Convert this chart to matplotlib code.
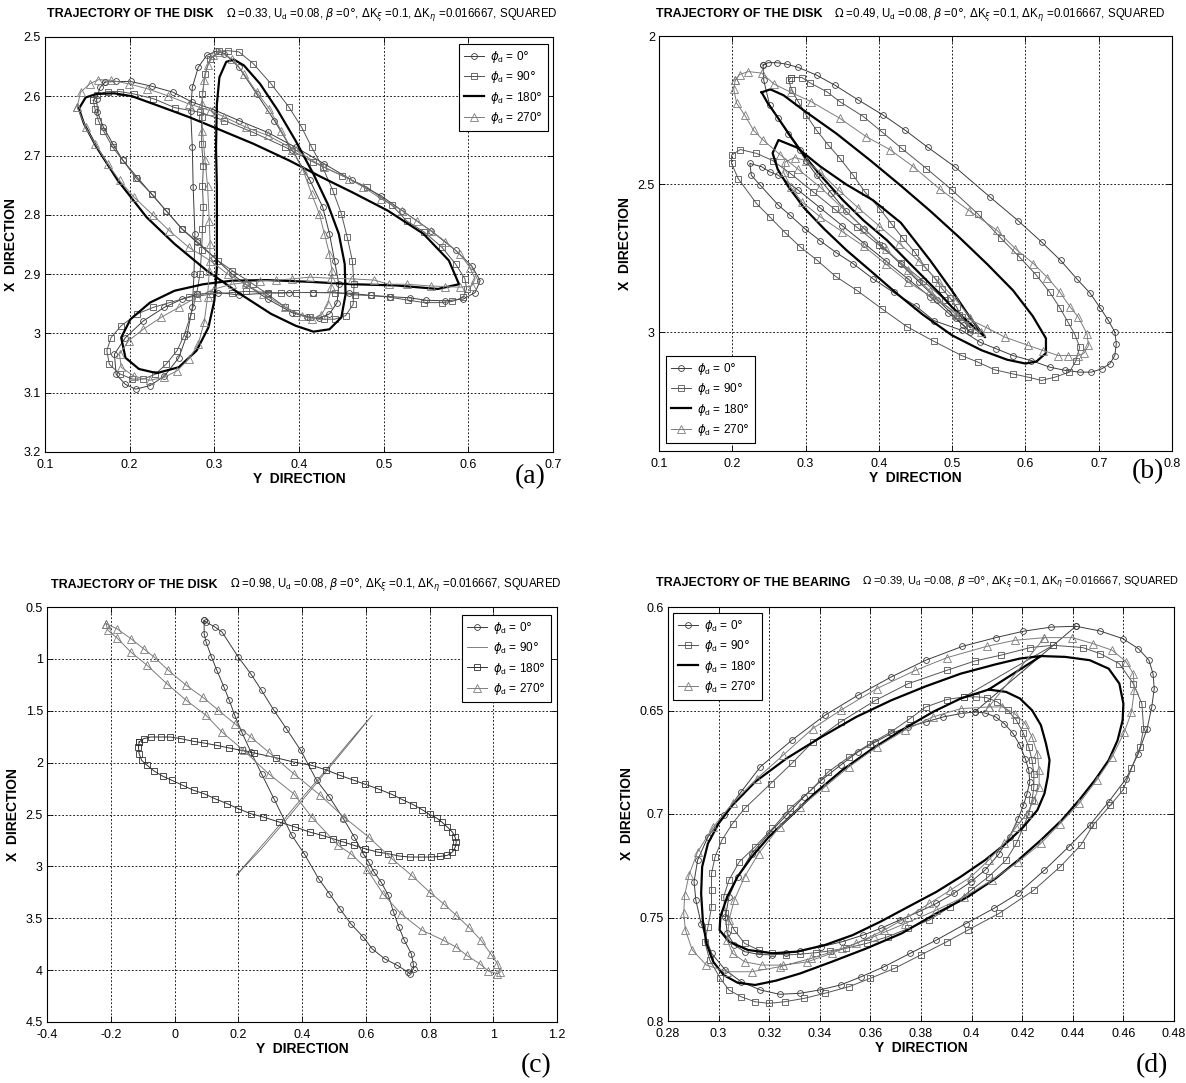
import numpy as np
import matplotlib.pyplot as plt

plt.rcParams['font.family'] = ['Liberation Sans Narrow', 'Liberation Sans', 'DejaVu Sans']
plt.rcParams['mathtext.fontset'] = 'dejavusans'

# ---------------- panel (a): disk, Omega = 0.33 ----------------
a_phi0 = [(0.171,2.576),(0.184,2.575),(0.201,2.575),(0.226,2.583),(0.251,2.593),(0.274,2.610),(0.300,2.623),
          (0.329,2.641),(0.363,2.661),(0.396,2.686),(0.430,2.714),(0.463,2.742),(0.497,2.768),(0.522,2.793),
          (0.556,2.827),(0.585,2.860),(0.604,2.886),(0.614,2.911),(0.608,2.931),(0.594,2.942),(0.573,2.945),
          (0.550,2.944),(0.531,2.940),(0.508,2.938),(0.485,2.936),(0.459,2.932),(0.417,2.931),(0.388,2.931),
          (0.363,2.932),(0.329,2.935),(0.304,2.931),(0.279,2.934),(0.262,2.942),(0.241,2.956),(0.216,2.979),
          (0.195,3.007),(0.182,3.035),(0.184,3.069),(0.195,3.086),(0.207,3.094),(0.224,3.088),(0.241,3.072),
          (0.258,3.041),(0.268,3.001),(0.274,2.956),(0.276,2.900),(0.277,2.832),(0.275,2.753),(0.274,2.686),
          (0.272,2.624),(0.274,2.585),(0.281,2.551),(0.291,2.531),(0.302,2.524),(0.312,2.528),(0.329,2.551),
          (0.350,2.596),(0.371,2.641),(0.392,2.691),(0.413,2.742),(0.428,2.787),(0.436,2.832),(0.442,2.877),
          (0.447,2.917),(0.445,2.948),(0.436,2.967),(0.424,2.974),(0.409,2.972),(0.392,2.965),(0.363,2.942),
          (0.337,2.917),(0.321,2.900),(0.300,2.872),(0.279,2.846),(0.262,2.824),(0.243,2.793),(0.226,2.765),
          (0.209,2.737),(0.192,2.708),(0.180,2.680),(0.169,2.652),(0.162,2.627),(0.161,2.604),(0.165,2.585),
          (0.171,2.576)]
a_phi90 = [(0.157,2.607),(0.161,2.597),(0.174,2.592),(0.188,2.592),(0.205,2.596),(0.228,2.604),(0.253,2.619),
           (0.283,2.627),(0.312,2.641),(0.346,2.661),(0.384,2.686),(0.417,2.711),(0.451,2.734),(0.480,2.753),
           (0.510,2.784),(0.527,2.810),(0.548,2.829),(0.569,2.855),(0.585,2.883),(0.596,2.908),(0.598,2.925),
           (0.594,2.939),(0.581,2.946),(0.569,2.948),(0.548,2.948),(0.529,2.944),(0.508,2.939),(0.485,2.936),
           (0.466,2.935),(0.442,2.931),(0.417,2.931),(0.396,2.931),(0.379,2.932),(0.363,2.931),(0.337,2.929),
           (0.321,2.931),(0.295,2.934),(0.270,2.939),(0.247,2.948),(0.228,2.956),(0.209,2.967),(0.190,2.987),
           (0.178,3.007),(0.173,3.029),(0.176,3.052),(0.188,3.068),(0.203,3.077),(0.216,3.077),(0.230,3.069),
           (0.243,3.052),(0.256,3.029),(0.264,3.004),(0.272,2.970),(0.279,2.934),(0.283,2.900),(0.285,2.860),
           (0.286,2.824),(0.287,2.787),(0.286,2.751),(0.287,2.717),(0.285,2.680),(0.285,2.635),(0.286,2.596),
           (0.289,2.562),(0.295,2.537),(0.306,2.524),(0.316,2.523),(0.329,2.525),(0.346,2.545),(0.367,2.579),
           (0.388,2.618),(0.403,2.652),(0.415,2.686),(0.428,2.720),(0.440,2.759),(0.450,2.798),(0.457,2.838),
           (0.463,2.877),(0.465,2.917),(0.464,2.951),(0.455,2.970),(0.442,2.976),(0.430,2.976),(0.413,2.973),
           (0.396,2.965),(0.384,2.956),(0.363,2.934),(0.346,2.917),(0.321,2.894),(0.304,2.877),(0.279,2.844),
           (0.262,2.824),(0.243,2.793),(0.226,2.765),(0.207,2.737),(0.192,2.708),(0.180,2.686),(0.169,2.658),
           (0.163,2.641),(0.159,2.621),(0.157,2.607)]
a_phi180 = [(0.140,2.621),(0.148,2.602),(0.161,2.596),(0.182,2.595),(0.203,2.600),(0.232,2.615),(0.270,2.635),
            (0.304,2.655),(0.346,2.680),(0.388,2.708),(0.426,2.736),(0.463,2.762),(0.505,2.793),(0.547,2.832),
            (0.577,2.877),(0.589,2.917),(0.564,2.925),(0.514,2.919),(0.463,2.917),(0.413,2.913),(0.363,2.910),
            (0.321,2.911),(0.287,2.917),(0.253,2.928),(0.224,2.948),(0.201,2.976),(0.190,3.007),(0.195,3.041),
            (0.211,3.060),(0.232,3.067),(0.258,3.057),(0.279,3.029),(0.293,2.990),(0.300,2.945),(0.303,2.889),
            (0.303,2.821),(0.303,2.753),(0.302,2.686),(0.303,2.613),(0.306,2.568),(0.314,2.542),(0.323,2.538),
            (0.335,2.548),(0.354,2.579),(0.375,2.624),(0.396,2.675),(0.417,2.731),(0.434,2.782),(0.447,2.832),
            (0.454,2.883),(0.455,2.934),(0.450,2.973),(0.436,2.993),(0.417,2.997),(0.396,2.987),(0.367,2.967),
            (0.329,2.932),(0.291,2.894),(0.253,2.849),(0.220,2.804),(0.186,2.742),(0.161,2.686),(0.146,2.646),
            (0.140,2.621)]
a_phi270 = [(0.138,2.618),(0.142,2.593),(0.153,2.579),(0.163,2.572),(0.178,2.573),(0.199,2.579),(0.220,2.587),
            (0.245,2.599),(0.270,2.613),(0.295,2.624),(0.312,2.635),(0.337,2.652),(0.363,2.666),(0.396,2.691),
            (0.430,2.720),(0.459,2.739),(0.476,2.753),(0.497,2.773),(0.522,2.793),(0.539,2.810),(0.556,2.827),
            (0.573,2.845),(0.590,2.866),(0.602,2.889),(0.608,2.908),(0.604,2.920),(0.590,2.922),(0.573,2.921),
            (0.556,2.920),(0.527,2.917),(0.506,2.917),(0.489,2.910),(0.463,2.908),(0.438,2.907),(0.413,2.905),
            (0.392,2.908),(0.373,2.910),(0.354,2.911),(0.337,2.914),(0.321,2.917),(0.300,2.925),(0.279,2.939),
            (0.258,2.956),(0.237,2.973),(0.216,2.993),(0.199,3.012),(0.188,3.035),(0.190,3.057),(0.205,3.072),
            (0.224,3.079),(0.241,3.074),(0.256,3.063),(0.270,3.043),(0.281,3.018),(0.288,2.981),(0.292,2.939),
            (0.294,2.894),(0.295,2.849),(0.294,2.810),(0.292,2.751),(0.289,2.708),(0.286,2.658),(0.285,2.613),
            (0.288,2.573),(0.292,2.548),(0.299,2.531),(0.306,2.525),(0.321,2.537),(0.335,2.562),(0.350,2.593),
            (0.365,2.621),(0.379,2.658),(0.392,2.691),(0.405,2.725),(0.415,2.765),(0.424,2.798),(0.430,2.832),
            (0.436,2.866),(0.439,2.894),(0.438,2.922),(0.434,2.951),(0.426,2.969),(0.415,2.976),(0.403,2.970),
            (0.384,2.956),(0.358,2.934),(0.337,2.917),(0.316,2.900),(0.295,2.877),(0.270,2.855),(0.247,2.827),
            (0.228,2.801),(0.205,2.770),(0.188,2.742),(0.174,2.714),(0.159,2.680),(0.148,2.652),(0.138,2.618)]

# ---------------- panel (b): disk, Omega = 0.49 ----------------
b_phi0 = [(0.242,2.098),(0.249,2.090),(0.261,2.090),(0.274,2.095),(0.290,2.106),(0.315,2.132),(0.340,2.166),
          (0.372,2.216),(0.406,2.267),(0.436,2.318),(0.467,2.376),(0.504,2.442),(0.552,2.544),(0.590,2.623),
          (0.622,2.695),(0.648,2.757),(0.670,2.819),(0.688,2.867),(0.702,2.917),(0.713,2.959),(0.722,2.999),
          (0.724,3.038),(0.722,3.078),(0.715,3.106),(0.704,3.123),(0.690,3.134),(0.674,3.134),(0.654,3.128),
          (0.633,3.117),(0.608,3.095),(0.583,3.078),(0.560,3.055),(0.538,3.033),(0.513,2.993),(0.475,2.960),
          (0.450,2.910),(0.420,2.865),(0.392,2.819),(0.365,2.768),(0.342,2.731),(0.320,2.691),(0.299,2.650),
          (0.279,2.605),(0.263,2.571),(0.238,2.503),(0.226,2.470),(0.224,2.430),(0.240,2.441),(0.251,2.458),
          (0.263,2.470),(0.290,2.520),(0.320,2.580),(0.350,2.640),(0.380,2.700),(0.410,2.760),(0.440,2.820),
          (0.470,2.880),(0.495,2.935),(0.515,2.975),(0.525,3.000),(0.505,2.950),(0.480,2.890),(0.455,2.830),
          (0.430,2.770),(0.405,2.710),(0.380,2.650),(0.355,2.590),(0.335,2.530),(0.315,2.470),(0.300,2.420),
          (0.292,2.385),(0.276,2.331),(0.263,2.278),(0.251,2.233),(0.243,2.150),(0.242,2.098)]
b_phi90 = [(0.280,2.140),(0.295,2.140),(0.306,2.158),(0.329,2.188),(0.347,2.222),(0.379,2.272),(0.404,2.323),
           (0.431,2.379),(0.465,2.447),(0.500,2.520),(0.535,2.600),(0.567,2.683),(0.592,2.746),(0.615,2.807),
           (0.633,2.864),(0.647,2.917),(0.658,2.965),(0.668,3.010),(0.674,3.050),(0.669,3.095),(0.660,3.134),
           (0.640,3.151),(0.622,3.162),(0.604,3.151),(0.583,3.140),(0.558,3.126),(0.535,3.100),(0.513,3.078),
           (0.475,3.030),(0.438,2.980),(0.404,2.920),(0.370,2.858),(0.341,2.811),(0.316,2.757),(0.293,2.712),
           (0.272,2.663),(0.251,2.610),(0.233,2.565),(0.208,2.481),(0.199,2.430),(0.199,2.402),(0.211,2.383),
           (0.233,2.396),(0.255,2.420),(0.280,2.465),(0.310,2.525),(0.340,2.585),(0.370,2.645),(0.400,2.705),
           (0.430,2.765),(0.460,2.825),(0.490,2.890),(0.510,2.940),(0.525,2.985),(0.513,2.948),(0.506,2.914),
           (0.497,2.883),(0.486,2.852),(0.477,2.819),(0.463,2.779),(0.449,2.729),(0.433,2.683),(0.417,2.633),
           (0.401,2.582),(0.381,2.526),(0.365,2.470),(0.347,2.413),(0.331,2.368),(0.315,2.318),(0.301,2.267),
           (0.290,2.222),(0.281,2.182),(0.277,2.150),(0.280,2.140)]
b_phi180 = [(0.240,2.190),(0.252,2.180),(0.270,2.200),(0.297,2.250),(0.342,2.329),(0.388,2.419),(0.430,2.505),
            (0.470,2.590),(0.510,2.680),(0.548,2.770),(0.583,2.858),(0.610,2.945),(0.628,3.020),(0.628,3.070),
            (0.615,3.098),(0.600,3.105),(0.575,3.092),(0.540,3.060),(0.500,3.010),(0.460,2.940),(0.425,2.870),
            (0.390,2.795),(0.356,2.723),(0.325,2.650),(0.298,2.580),(0.277,2.510),(0.262,2.450),(0.255,2.395),
            (0.263,2.351),(0.288,2.376),(0.320,2.440),(0.355,2.500),(0.392,2.554),(0.430,2.630),(0.470,2.757),
            (0.500,2.860),(0.524,2.948),(0.545,3.016),(0.520,2.960),(0.500,2.915),(0.483,2.869),(0.465,2.824),
            (0.438,2.757),(0.411,2.689),(0.379,2.622),(0.351,2.554),(0.324,2.480),(0.300,2.410),(0.280,2.340),
            (0.262,2.275),(0.248,2.225),(0.240,2.190)]
b_phi270 = [(0.204,2.149),(0.210,2.130),(0.222,2.120),(0.240,2.125),(0.257,2.162),(0.280,2.190),(0.308,2.222),
            (0.347,2.278),(0.383,2.340),(0.415,2.383),(0.447,2.441),(0.483,2.516),(0.523,2.589),(0.561,2.655),
            (0.586,2.717),(0.611,2.768),(0.630,2.815),(0.647,2.864),(0.661,2.914),(0.672,2.948),(0.684,3.004),
            (0.686,3.044),(0.680,3.070),(0.672,3.078),(0.658,3.078),(0.645,3.078),(0.624,3.061),(0.604,3.044),
            (0.572,3.016),(0.547,2.984),(0.510,2.940),(0.475,2.885),(0.440,2.830),(0.410,2.770),(0.380,2.710),
            (0.350,2.660),(0.320,2.610),(0.295,2.560),(0.280,2.510),(0.270,2.460),(0.272,2.425),(0.285,2.410),
            (0.300,2.420),(0.320,2.460),(0.345,2.520),(0.372,2.580),(0.400,2.640),(0.428,2.700),(0.455,2.760),
            (0.482,2.830),(0.505,2.890),(0.525,2.950),(0.540,3.000),(0.530,2.990),(0.505,2.940),(0.470,2.860),
            (0.440,2.790),(0.410,2.720),(0.380,2.650),(0.350,2.580),(0.320,2.510),(0.290,2.450),(0.265,2.400),
            (0.242,2.351),(0.229,2.318),(0.217,2.267),(0.206,2.227),(0.202,2.180),(0.204,2.149)]

# ---------------- panel (c): disk, Omega = 0.98 ----------------
c_phi0 = [(0.093,0.629),(0.093,0.757),(0.099,0.837),(0.116,0.982),(0.133,1.110),(0.155,1.271),(0.172,1.400),
          (0.189,1.544),(0.211,1.705),(0.240,1.900),(0.273,2.107),(0.312,2.348),(0.368,2.701),(0.407,2.878),
          (0.452,3.119),(0.486,3.263),(0.519,3.408),(0.553,3.553),(0.592,3.681),(0.620,3.794),(0.659,3.890),
          (0.699,3.954),(0.732,4.019),(0.738,4.035),(0.750,3.985),(0.749,3.938),(0.743,3.842),(0.721,3.713),
          (0.704,3.585),(0.687,3.440),(0.671,3.280),(0.648,3.151),(0.626,3.055),(0.609,2.958),(0.592,2.878),
          (0.564,2.717),(0.530,2.541),(0.486,2.332),(0.446,2.171),(0.396,1.882),(0.351,1.673),(0.312,1.496),
          (0.273,1.303),(0.239,1.143),(0.200,0.982),(0.149,0.741),(0.127,0.693),(0.099,0.645),(0.093,0.629)]
c_phi90 = [(0.194,3.087),(0.260,2.850),(0.330,2.600),(0.400,2.340),(0.470,2.090),(0.540,1.830),(0.620,1.544),
           (0.550,1.810),(0.480,2.070),(0.410,2.330),(0.340,2.590),(0.270,2.840),(0.197,3.075)]
c_phi180 = [(-0.111,1.801),(-0.097,1.769),(-0.075,1.753),(-0.041,1.753),(-0.013,1.753),(0.020,1.769),
            (0.060,1.795),(0.093,1.811),(0.133,1.834),(0.172,1.859),(0.211,1.882),(0.250,1.907),(0.317,1.952),
            (0.374,1.994),(0.430,2.026),(0.474,2.068),(0.519,2.123),(0.564,2.171),(0.598,2.209),(0.637,2.251),
            (0.682,2.306),(0.715,2.357),(0.749,2.405),(0.777,2.454),(0.800,2.499),(0.822,2.534),(0.839,2.573),
            (0.856,2.621),(0.872,2.669),(0.880,2.717),(0.884,2.765),(0.881,2.814),(0.872,2.862),(0.856,2.894),
            (0.833,2.904),(0.805,2.910),(0.772,2.910),(0.738,2.910),(0.704,2.900),(0.671,2.878),(0.637,2.862),
            (0.598,2.830),(0.564,2.798),(0.530,2.765),(0.497,2.733),(0.463,2.701),(0.424,2.669),(0.379,2.621),
            (0.329,2.573),(0.278,2.524),(0.239,2.492),(0.200,2.444),(0.166,2.396),(0.127,2.348),(0.093,2.300),
            (0.060,2.267),(0.026,2.219),(-0.008,2.171),(-0.036,2.132),(-0.064,2.081),(-0.086,2.026),
            (-0.103,1.978),(-0.111,1.914),(-0.113,1.850),(-0.111,1.801)]
c_phi270 = [(-0.215,0.661),(-0.181,0.709),(-0.137,0.805),(-0.097,0.902),(-0.064,0.982),(-0.019,1.111),
            (0.037,1.255),(0.088,1.368),(0.138,1.496),(0.189,1.625),(0.239,1.753),(0.295,1.898),(0.374,2.107),
            (0.458,2.316),(0.531,2.524),(0.609,2.717),(0.682,2.926),(0.744,3.087),(0.800,3.247),(0.844,3.360),
            (0.884,3.472),(0.923,3.585),(0.962,3.713),(0.992,3.842),(1.013,3.938),(1.022,4.019),(1.013,4.035),
            (0.985,4.009),(0.957,3.938),(0.917,3.858),(0.884,3.778),(0.844,3.713),(0.777,3.617),(0.710,3.456),
            (0.654,3.264),(0.603,3.023),(0.553,2.878),(0.514,2.798),(0.430,2.524),(0.374,2.300),(0.295,2.107),
            (0.217,1.882),(0.149,1.705),(0.099,1.544),(0.037,1.400),(-0.024,1.239),(-0.086,1.062),
            (-0.137,0.934),(-0.181,0.796),(-0.209,0.725),(-0.215,0.661)]

# ---------------- panel (d): bearing, Omega = 0.39 ----------------
d_phi0 = [(0.4412,0.6093),(0.4508,0.6116),(0.4598,0.6153),(0.4659,0.6201),(0.4701,0.6257),(0.4717,0.6322),
          (0.4722,0.6394),(0.4712,0.6483),(0.4694,0.6587),(0.4659,0.6708),(0.4611,0.6829),(0.4542,0.6941),
          (0.4467,0.7054),(0.4384,0.7158),(0.4288,0.7271),(0.4184,0.7384),(0.4088,0.7456),(0.3978,0.7529),
          (0.3861,0.7609),(0.3757,0.7673),(0.3654,0.7738),(0.3564,0.7786),(0.3482,0.7826),(0.3399,0.7850),
          (0.3323,0.7866),(0.3241,0.7871),(0.3165,0.7850),(0.3089,0.7810),(0.3027,0.7754),(0.2972,0.7673),
          (0.2931,0.7529),(0.2910,0.7416),(0.2903,0.7327),(0.2917,0.7223),(0.2958,0.7110),(0.3020,0.7006),
          (0.3089,0.6893),(0.3165,0.6772),(0.3289,0.6644),(0.3420,0.6523),(0.3551,0.6426),(0.3682,0.6338),
          (0.3819,0.6257),(0.3964,0.6190),(0.4095,0.6148),(0.4205,0.6117),(0.4315,0.6097),(0.4412,0.6093),
          (0.4012,0.6507),(0.4053,0.6512),(0.4095,0.6531),(0.4129,0.6563),(0.4164,0.6611),(0.4191,0.6668),
          (0.4212,0.6732),(0.4226,0.6788),(0.4230,0.6845),(0.4219,0.6901),(0.4205,0.6957),(0.4184,0.7022),
          (0.4150,0.7110),(0.4109,0.7191),(0.4053,0.7271),(0.3998,0.7327),(0.3929,0.7384),(0.3861,0.7432),
          (0.3792,0.7472),(0.3716,0.7512),(0.3640,0.7553),(0.3571,0.7585),(0.3489,0.7617),(0.3406,0.7641),
          (0.3323,0.7661),(0.3268,0.7673),(0.3213,0.7681),(0.3158,0.7678),(0.3103,0.7665),(0.3062,0.7633),
          (0.3034,0.7577),(0.3027,0.7496),(0.3041,0.7400),(0.3075,0.7303),(0.3131,0.7191),(0.3199,0.7094),
          (0.3268,0.7006),(0.3337,0.6917),(0.3406,0.6837),(0.3482,0.6764),(0.3551,0.6700),(0.3620,0.6652),
          (0.3682,0.6611),(0.3750,0.6579),(0.3819,0.6555),(0.3888,0.6531),(0.3957,0.6515),(0.4012,0.6507)]
d_phi90 = [(0.4322,0.6185),(0.4439,0.6196),(0.4508,0.6225),(0.4584,0.6274),(0.4639,0.6370),(0.4673,0.6467),
           (0.4680,0.6587),(0.4666,0.6676),(0.4632,0.6780),(0.4598,0.6885),(0.4549,0.6957),(0.4480,0.7054),
           (0.4432,0.7150),(0.4350,0.7255),(0.4246,0.7368),(0.4109,0.7480),(0.3985,0.7561),(0.3902,0.7617),
           (0.3799,0.7681),(0.3695,0.7746),(0.3599,0.7794),(0.3516,0.7834),(0.3420,0.7866),(0.3337,0.7891),
           (0.3261,0.7907),(0.3199,0.7915),(0.3144,0.7907),(0.3089,0.7883),(0.3041,0.7850),(0.3007,0.7794),
           (0.2965,0.7706),(0.2945,0.7617),(0.2958,0.7545),(0.2972,0.7448),(0.2972,0.7368),(0.2972,0.7287),
           (0.2986,0.7207),(0.3013,0.7126),(0.3055,0.7046),(0.3103,0.6973),(0.3206,0.6853),(0.3289,0.6756),
           (0.3372,0.6652),(0.3482,0.6555),(0.3620,0.6451),(0.3750,0.6370),(0.3902,0.6306),(0.4012,0.6261),
           (0.4115,0.6233),(0.4232,0.6196),(0.4322,0.6185),
           (0.3971,0.6434),(0.3902,0.6447),(0.3819,0.6483),(0.3757,0.6539),(0.3682,0.6603),(0.3599,0.6660),
           (0.3516,0.6724),(0.3434,0.6796),(0.3365,0.6885),(0.3282,0.6973),(0.3213,0.7070),(0.3144,0.7158),
           (0.3082,0.7231),(0.3041,0.7319),(0.3020,0.7400),(0.3027,0.7480),(0.3062,0.7561),(0.3103,0.7625),
           (0.3158,0.7657),(0.3213,0.7673),(0.3268,0.7681),(0.3323,0.7677),(0.3385,0.7670),(0.3440,0.7661),
           (0.3502,0.7649),(0.3585,0.7625),(0.3668,0.7593),(0.3750,0.7553),(0.3833,0.7512),(0.3916,0.7448),
           (0.3998,0.7368),(0.4067,0.7303),(0.4136,0.7223),(0.4177,0.7142),(0.4205,0.7062),(0.4226,0.6998),
           (0.4239,0.6933),(0.4246,0.6869),(0.4246,0.6805),(0.4239,0.6740),(0.4226,0.6676),(0.4205,0.6611),
           (0.4177,0.6547),(0.4143,0.6499),(0.4102,0.6459),(0.4060,0.6438),(0.4019,0.6434),(0.3971,0.6434)]
d_phi180 = [(0.4274,0.6237),(0.4370,0.6241),(0.4467,0.6257),(0.4542,0.6298),(0.4584,0.6370),(0.4600,0.6467),
            (0.4597,0.6547),(0.4577,0.6644),(0.4542,0.6740),(0.4487,0.6837),(0.4425,0.6933),(0.4356,0.7030),
            (0.4274,0.7126),(0.4184,0.7223),(0.4095,0.7311),(0.3985,0.7400),(0.3861,0.7480),(0.3723,0.7577),
            (0.3585,0.7649),(0.3447,0.7714),(0.3323,0.7770),(0.3227,0.7805),(0.3144,0.7826),(0.3075,0.7815),
            (0.3020,0.7778),(0.2979,0.7714),(0.2952,0.7625),(0.2938,0.7520),(0.2931,0.7384),(0.2935,0.7255),
            (0.2958,0.7142),(0.3000,0.7046),(0.3055,0.6957),(0.3144,0.6845),(0.3268,0.6732),(0.3406,0.6628),
            (0.3544,0.6531),(0.3682,0.6451),(0.3819,0.6383),(0.3957,0.6322),(0.4095,0.6277),(0.4191,0.6249),
            (0.4274,0.6237),
            (0.4067,0.6399),(0.4136,0.6410),(0.4191,0.6442),(0.4239,0.6499),(0.4274,0.6571),(0.4294,0.6660),
            (0.4308,0.6740),(0.4301,0.6821),(0.4288,0.6901),(0.4260,0.6981),(0.4205,0.7062),(0.4136,0.7142),
            (0.4053,0.7223),(0.3957,0.7303),(0.3861,0.7376),(0.3750,0.7448),(0.3640,0.7520),(0.3530,0.7585),
            (0.3420,0.7633),(0.3310,0.7665),(0.3213,0.7673),(0.3117,0.7657),(0.3041,0.7617),(0.3004,0.7561),
            (0.3007,0.7496),(0.3034,0.7400),(0.3075,0.7303),(0.3131,0.7207),(0.3199,0.7110),(0.3282,0.7014),
            (0.3379,0.6901),(0.3489,0.6788),(0.3599,0.6692),(0.3723,0.6595),(0.3847,0.6507),(0.3957,0.6442),
            (0.4067,0.6399)]
d_phi270 = [(0.4288,0.6148),(0.4398,0.6148),(0.4480,0.6177),(0.4556,0.6209),(0.4611,0.6265),(0.4639,0.6322),
            (0.4643,0.6402),(0.4632,0.6507),(0.4604,0.6603),(0.4556,0.6724),(0.4494,0.6837),(0.4425,0.6949),
            (0.4350,0.7046),(0.4274,0.7142),(0.4184,0.7231),(0.4081,0.7319),(0.3971,0.7400),(0.3861,0.7464),
            (0.3737,0.7529),(0.3613,0.7593),(0.3489,0.7649),(0.3365,0.7698),(0.3241,0.7738),(0.3131,0.7762),
            (0.3034,0.7762),(0.2952,0.7730),(0.2896,0.7657),(0.2869,0.7561),(0.2862,0.7480),(0.2866,0.7392),
            (0.2883,0.7295),(0.2917,0.7183),(0.2979,0.7062),(0.3055,0.6949),(0.3151,0.6829),(0.3255,0.6716),
            (0.3372,0.6587),(0.3482,0.6499),(0.3626,0.6394),(0.3778,0.6306),(0.3902,0.6245),(0.4060,0.6190),
            (0.4170,0.6161),(0.4288,0.6148),
            (0.4067,0.6483),(0.4122,0.6483),(0.4170,0.6515),(0.4212,0.6563),(0.4239,0.6628),(0.4260,0.6708),
            (0.4267,0.6788),(0.4267,0.6869),(0.4246,0.6933),(0.4219,0.6998),(0.4177,0.7062),(0.4129,0.7142),
            (0.4067,0.7223),(0.3998,0.7303),(0.3916,0.7368),(0.3833,0.7432),(0.3750,0.7496),(0.3654,0.7561),
            (0.3544,0.7625),(0.3447,0.7673),(0.3351,0.7714),(0.3255,0.7730),(0.3172,0.7730),(0.3103,0.7714),
            (0.3055,0.7673),(0.3034,0.7609),(0.3041,0.7512),(0.3062,0.7416),(0.3103,0.7303),(0.3158,0.7191),
            (0.3241,0.7062),(0.3323,0.6965),(0.3420,0.6869),(0.3516,0.6772),(0.3626,0.6676),(0.3737,0.6595),
            (0.3847,0.6531),(0.3957,0.6491),(0.4067,0.6483)]

titles = ['TRAJECTORY OF THE DISK', 'TRAJECTORY OF THE DISK',
          'TRAJECTORY OF THE DISK', 'TRAJECTORY OF THE BEARING']
omegas = ['0.33', '0.49', '0.98', '0.39']
panel_tags = ['(a)', '(b)', '(c)', '(d)']
phi_labels = [r'$\phi_{\mathregular{d}}$ = 0$\degree$', r'$\phi_{\mathregular{d}}$ = 90$\degree$',
              r'$\phi_{\mathregular{d}}$ = 180$\degree$', r'$\phi_{\mathregular{d}}$ = 270$\degree$']

# line styles (MATLAB-like hollow markers)
st_circ = dict(color='#3c3c3c', lw=0.7, marker='o', ms=4.2, mfc='none', mew=0.6)
st_sq = dict(color='#555555', lw=0.7, marker='s', ms=4.0, mfc='none', mew=0.6)
st_sq_dark = dict(color='#303030', lw=0.7, marker='s', ms=4.0, mfc='none', mew=0.6)
st_thick = dict(color='black', lw=1.6)
st_tri = dict(color='#7c7c7c', lw=0.7, marker='^', ms=5.2, mfc='none', mew=0.6)
st_thin = dict(color='#6a6a6a', lw=0.6)

W, H = 1186, 1083
fig = plt.figure(figsize=(W / 100, H / 100), dpi=100)


def fx(px):
    return px / W


def fy(py):
    return 1 - py / H


# axes boxes in pixel coordinates: left, top, right, bottom
boxes = [(45, 37, 553, 452), (659, 36, 1172, 451), (47, 607, 557, 1022), (668, 607, 1174, 1021)]
axes = []
for l, t, r, b in boxes:
    axes.append(fig.add_axes([fx(l), fy(b), (r - l) / W, (b - t) / H]))

panels = [
    [(a_phi0, st_circ), (a_phi90, st_sq), (a_phi180, st_thick), (a_phi270, st_tri)],
    [(b_phi0, st_circ), (b_phi90, st_sq), (b_phi180, st_thick), (b_phi270, st_tri)],
    [(c_phi0, st_circ), (c_phi90, st_thin), (c_phi180, st_sq_dark), (c_phi270, st_tri)],
    [(d_phi0, st_circ), (d_phi90, st_sq), (d_phi180, st_thick), (d_phi270, st_tri)],
]
xlims = [(0.1, 0.7), (0.1, 0.8), (-0.4, 1.2), (0.28, 0.48)]
ylims = [(3.2, 2.5), (3.4, 2.0), (4.5, 0.5), (0.8, 0.6)]
xticks = [np.arange(0.1, 0.71, 0.1), np.arange(0.1, 0.81, 0.1), np.arange(-0.4, 1.21, 0.2),
          np.arange(0.28, 0.481, 0.02)]
yticks = [np.arange(2.5, 3.21, 0.1), [2.0, 2.5, 3.0], np.arange(0.5, 4.51, 0.5), np.arange(0.6, 0.81, 0.05)]
# legend anchor corner (pixels) and loc
leg_pos = [((548, 44), 'upper right'), ((666, 443), 'lower left'),
           ((551, 615), 'upper right'), ((673, 613), 'upper left')]

for i, ax in enumerate(axes):
    for (pts, st), lab in zip(panels[i], phi_labels):
        arr = np.array(pts)
        ax.plot(arr[:, 0], arr[:, 1], label=lab, **st)
    ax.set_xlim(*xlims[i])
    ax.set_ylim(*ylims[i])
    ax.set_xticks(xticks[i])
    ax.set_yticks(yticks[i])
    ax.set_xticklabels(['%g' % round(v, 2) for v in xticks[i]])
    ax.set_yticklabels(['%g' % round(v, 2) for v in yticks[i]])
    ax.grid(True, color='black', ls=(0, (2.2, 2.2)), lw=0.6)
    ax.set_axisbelow(True)
    ax.tick_params(direction='in', top=True, right=True, length=4, width=0.6, labelsize=9, pad=3)
    ax.tick_params(axis='x', pad=5)
    for s in ax.spines.values():
        s.set_linewidth(0.8)
    ax.set_xlabel('Y  DIRECTION', fontsize=10, fontweight='bold', labelpad=1)
    ax.set_ylabel('X  DIRECTION', fontsize=10, fontweight='bold', labelpad=4)
    (px, py), loc = leg_pos[i]
    leg = ax.legend(loc=loc, bbox_to_anchor=(fx(px), fy(py)), bbox_transform=fig.transFigure,
                    fontsize=8.5, numpoints=1, fancybox=False, framealpha=1, edgecolor='black',
                    handlelength=1.7, labelspacing=0.35, borderpad=0.45, handletextpad=0.5,
                    borderaxespad=0)
    leg.get_frame().set_linewidth(0.8)

# titles: bold part, then the parameter list just after it
title_pos = [(47, 14), (656, 14), (51, 585), (656, 583)]
param_size = [8.3, 8.3, 8.3, 7.9]
tag_pos = [(546, 477), (1164, 472), (551, 1066), (1168, 1066)]
renderer = fig.canvas.get_renderer()
for i in range(4):
    x0, y0 = title_pos[i]
    t = fig.text(fx(x0), fy(y0), titles[i], fontsize=9, fontweight='bold', va='center', ha='left')
    ext = t.get_window_extent(renderer=renderer)
    params = (r'$\Omega$ =' + omegas[i] + r', U$_{\mathregular{d}}$ =0.08, $\beta$ =0$\degree$, '
              r'$\Delta$K$_{\xi}$ =0.1, $\Delta$K$_{\eta}$ =0.016667, SQUARED')
    fig.text((ext.x1 + 12) / W, fy(y0), params, fontsize=param_size[i], va='center', ha='left')
    tx, ty = tag_pos[i]
    fig.text(fx(tx), fy(ty), panel_tags[i], fontsize=20, family='Liberation Serif', ha='right', va='center')

fig.savefig('out.png', dpi=100)
